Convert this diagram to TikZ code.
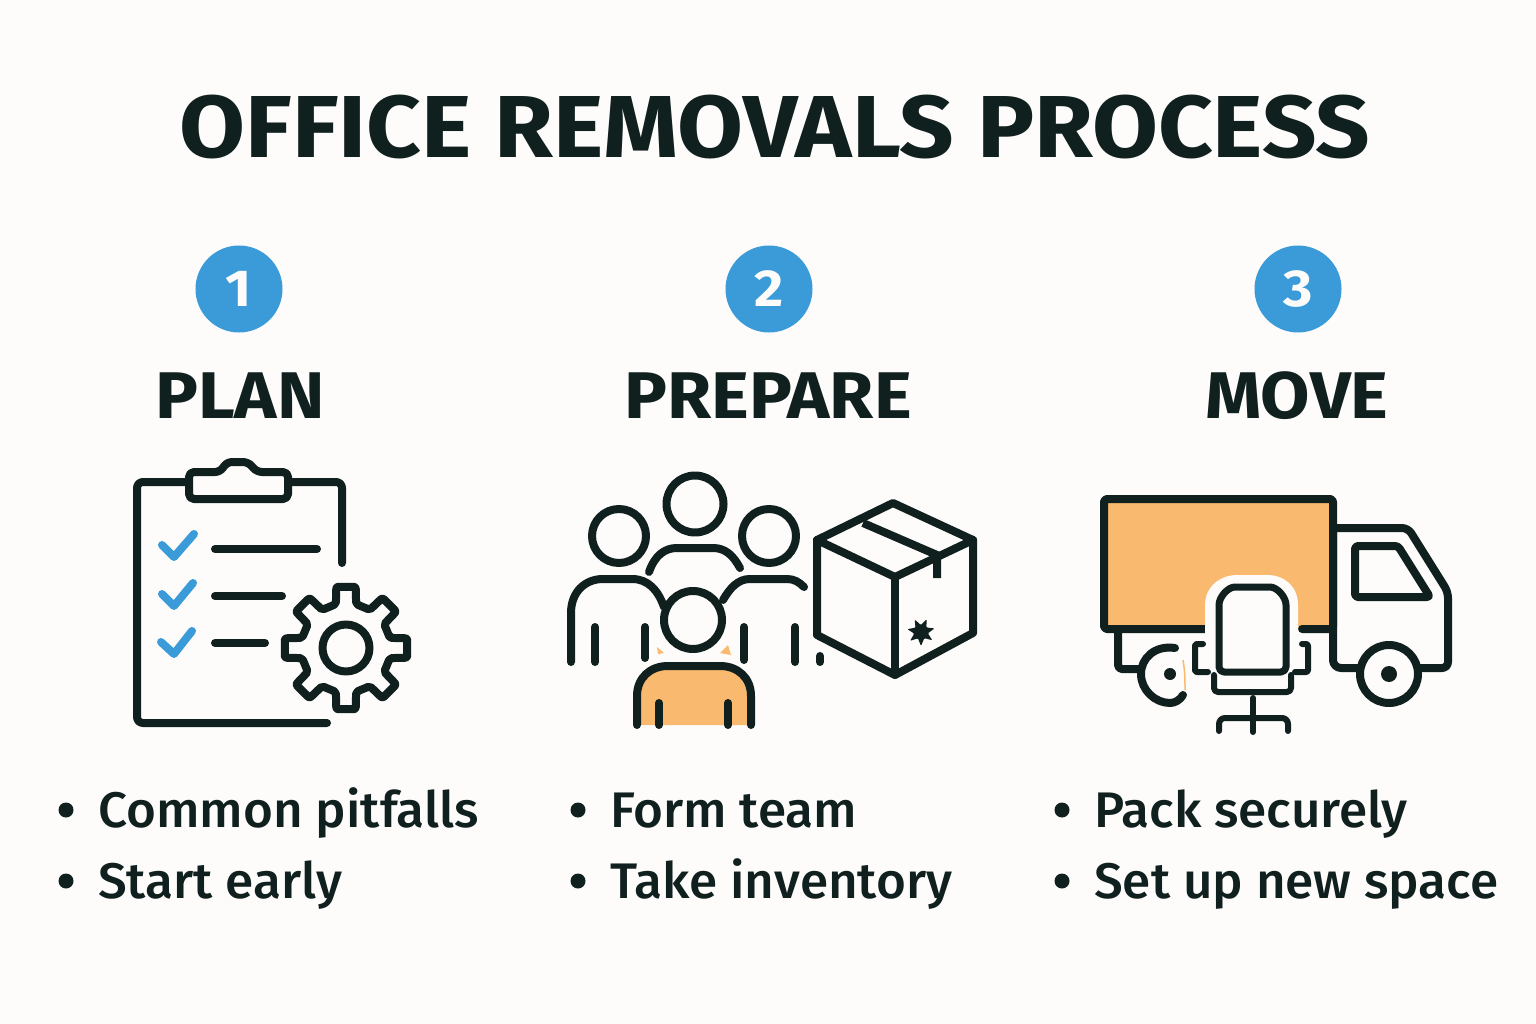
\documentclass[tikz,border=0pt]{standalone}
\usepackage{fontspec}
\setmainfont{Fira Sans Medium}[FakeStretch=1.025]
\newfontfamily\headfont{Fira Sans Bold}[FakeStretch=1.085]
\usetikzlibrary{positioning}
\definecolor{ink}{HTML}{10201F}
\definecolor{pagebg}{HTML}{FDFCFA}
\definecolor{badge}{HTML}{3A9BD8}
\definecolor{tan}{HTML}{F9BA6F}
\tikzset{
  icon/.style={draw=ink, line width=8pt, line cap=round, line join=round},
  tick/.style={draw=badge, line width=8pt, line cap=round, line join=round},
  numdisc/.style={circle, fill=badge, minimum size=87pt, inner sep=0pt, text=pagebg, font=\headfont\fontsize{52}{52}\selectfont},
  heading/.style={text=ink, inner sep=0pt, font=\headfont\fontsize{66}{66}\selectfont},
  dotmark/.style={circle, fill=ink, minimum size=15pt, inner sep=0pt},
  itemtext/.style={text=ink, inner sep=0pt, anchor=base west, font=\fontsize{50}{50}\selectfont}
}
\begin{document}
\begin{tikzpicture}[x=1pt, y=-1pt]
  \path[fill=pagebg, use as bounding box] (0,0) rectangle (1536,1024);
  \node (title) [text=ink, inner sep=0pt, font=\headfont\fontsize{88}{88}\selectfont] at (775,127) {OFFICE REMOVALS PROCESS};

  % steps
  \node (one) [numdisc] at (239,289) {1};
  \node (two) [numdisc] at (769,289) {2};
  \node (three) [numdisc] at (1298,289) {3};
  \node (plan) [heading] at (240,396) {PLAN};
  \node (prepare) [heading] at (768,396) {PREPARE};
  \node (move) [heading] at (1297,396) {MOVE};

  % lists
  \node (dotA) [dotmark] at (66,810) {};
  \node (dotB) [dotmark] at (66,881) {};
  \node (dotC) [dotmark] at (578,810) {};
  \node (dotD) [dotmark] at (578,881) {};
  \node (dotE) [dotmark] at (1062,810) {};
  \node (dotF) [dotmark] at (1062,881) {};
  \node (itemA) [itemtext] at (98,827) {Common pitfalls};
  \node (itemB) [itemtext] at (98,898) {Start early};
  \node (itemC) [itemtext] at (610,827) {Form team};
  \node (itemD) [itemtext] at (610,898) {Take inventory};
  \node (itemE) [itemtext] at (1094,827) {Pack securely};
  \node (itemF) [itemtext] at (1094,898) {Set up new space};

  % clipboard
  \draw[icon, rounded corners=6pt] (188,482) -- (137,482) -- (137,723) -- (327,723);
  \draw[icon, rounded corners=6pt] (290,482) -- (342,482) -- (342,563);
  \draw[icon, rounded corners=5pt] (189,499) -- (189,472) -- (220,472) -- (227,462) -- (248,462) -- (257,472) -- (288,472) -- (288,499) -- cycle;
  \draw[tick] (162,545) -- (174,557) -- (194,534);
  \draw[tick] (162,594) -- (174,606) -- (193,583);
  \draw[tick] (161,642) -- (174,654) -- (192,631);
  \draw[icon] (215,549) -- (317,549);
  \draw[icon] (215,596) -- (282,596);
  \draw[icon] (215,643) -- (265,643);
  \begin{scope}[shift={(346,648)}]
    \draw[icon, rounded corners=2pt] (-13:45)
      \foreach \a in {0,45,...,315} { -- (\a-13:45) -- (\a-9:62) -- (\a+9:62) -- (\a+13:45) } -- cycle;
    \draw[icon] (0,0) circle (23.5);
  \end{scope}

  % people and box
  \draw[icon] (695,504) circle (28.5);
  \draw[icon] (619,536) circle (27);
  \draw[icon] (769,536) circle (27);
  \draw[icon] (649,572) .. controls (655,555) and (665,548) .. (677,548) -- (713,548) .. controls (725,548) and (733,555) .. (740,568);
  \draw[icon] (571,662) -- (571,613) .. controls (571,592) and (585,579) .. (603,579) -- (632,579) .. controls (648,579) and (658,590) .. (664,607);
  \draw[icon] (723,600) .. controls (730,588) and (738,579) .. (750,579) -- (787,579) .. controls (794,579) and (799,582) .. (804,587);
  \draw[icon] (595,627) -- (595,662);
  \draw[icon] (645,627) -- (645,658);
  \draw[icon] (744,627) -- (744,660);
  \draw[icon] (795,627) -- (795,662);
  \draw[icon] (820,656) -- (820,662);
  \fill[tan] (657,647) -- (664,653) -- (658,654) -- cycle;
  \fill[tan] (728,645) -- (720,653) -- (731,655) -- cycle;
  \draw[icon] (693,620) circle (29);
  \fill[tan] (637,725) -- (637,696) .. controls (637,678) and (650,666) .. (668,666) -- (720,666) .. controls (738,666) and (751,678) .. (751,696) -- (751,725) -- cycle;
  \draw[icon] (637,725) -- (637,696) .. controls (637,678) and (650,666) .. (668,666) -- (720,666) .. controls (738,666) and (751,678) .. (751,696) -- (751,725);
  \draw[icon] (659,703) -- (659,725);
  \draw[icon] (728,703) -- (728,725);
  \draw[icon] (893,503) -- (973,540) -- (973,633) -- (895,675) -- (817,635) -- (817,540) -- cycle;
  \draw[icon] (817,540) -- (895,577) -- (973,540);
  \draw[icon] (895,577) -- (895,675);
  \draw[icon, line cap=butt] (863,523) -- (937,555) -- (937,578);
  \fill[ink, rounded corners=1pt, shift={(921,632)}] (90:14)
    \foreach \a in {90,141,...,396} { -- (\a:14) -- (\a+26:7) } -- cycle;

  % truck
  \draw[icon, fill=tan, rounded corners=3pt] (1205,629) -- (1104,629) -- (1104,499) -- (1333,499) -- (1333,629) -- (1302,629);
  \fill[pagebg] (1205,640) -- (1205,605) .. controls (1205,587) and (1220,575) .. (1237,575) -- (1267,575) .. controls (1285,575) and (1298,587) .. (1298,605) -- (1298,640) -- cycle;
  \draw[icon, rounded corners=8pt] (1333,525) -- (1333,668) -- (1358,668);
  \draw[icon, rounded corners=6pt] (1333,528) -- (1408,528) -- (1448,592) -- (1448,668) -- (1418,668);
  \draw[icon, rounded corners=3pt] (1355,546) -- (1398,546) -- (1430,597) -- (1355,597) -- cycle;
  \draw[icon] (1389,674) circle (29);
  \fill[ink] (1389,674) circle (8);
  \draw[icon, rounded corners=4pt] (1118,632) -- (1118,669) -- (1140,669);
  \draw[icon] (1175,648) .. controls (1155,645) and (1141,658) .. (1141,674) .. controls (1141,690) and (1155,703) .. (1170,703) .. controls (1175,703) and (1180,700) .. (1183,695);
  \fill[ink] (1170,674) circle (6);
  \draw[tan, line width=1.5pt] (1183,660) .. controls (1185,672) and (1185,680) .. (1185,690);
  % chair
  \draw[icon, line width=7pt, rounded corners=5pt] (1219,672) -- (1219,610) .. controls (1219,597) and (1228,587) .. (1240,587) -- (1265,587) .. controls (1277,587) and (1286,597) .. (1286,610) -- (1286,672) -- cycle;
  \draw[icon, line width=6pt, rounded corners=4pt] (1214,675) -- (1214,692) -- (1291,692) -- (1291,675);
  \draw[icon, line width=6pt, rounded corners=2pt] (1203,644) -- (1195,644) -- (1195,672) -- (1208,672);
  \draw[icon, line width=6pt, rounded corners=2pt] (1302,644) -- (1308,644) -- (1308,672) -- (1295,672);
  \draw[icon, line width=6pt] (1253,698) -- (1253,732);
  \draw[icon, line width=6pt, rounded corners=6pt] (1219,731) -- (1219,718) -- (1288,718) -- (1288,731);
\end{tikzpicture}
\end{document}
